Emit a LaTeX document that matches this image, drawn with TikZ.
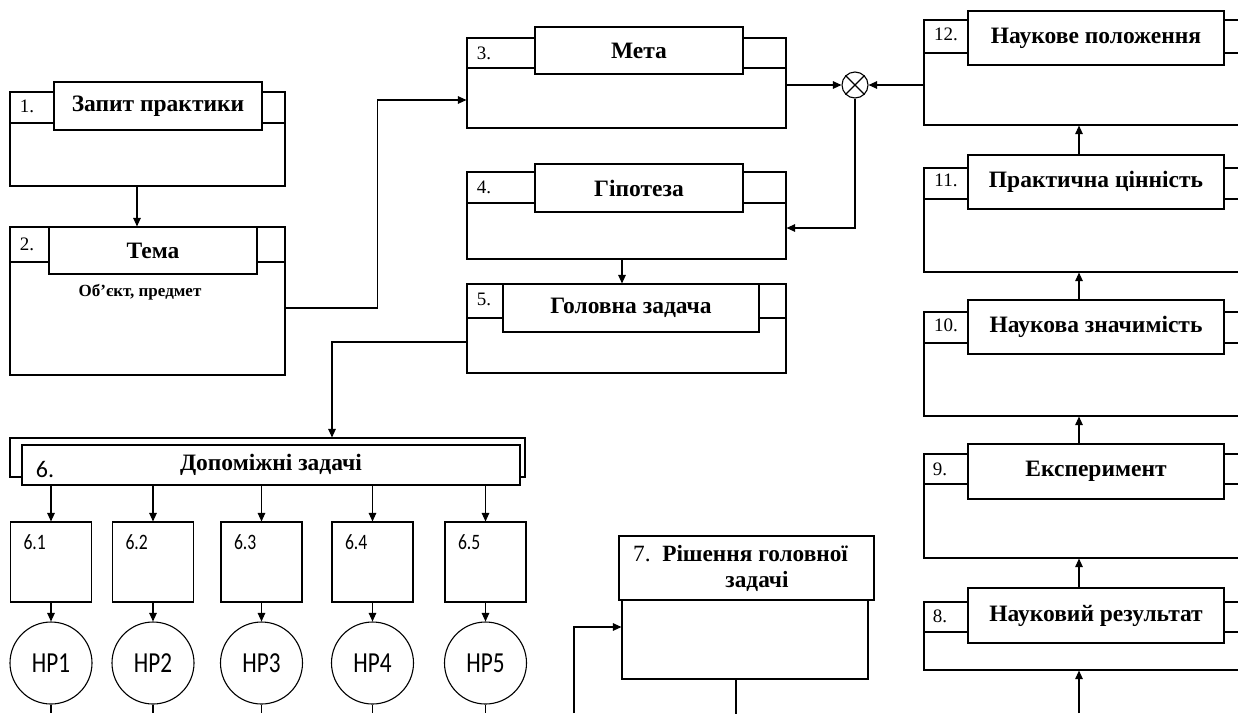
\documentclass[tikz,border=0pt]{standalone}
\usepackage{fontspec}
\setmainfont{Liberation Serif}
\newfontfamily\sansnum{Carlito}
\newfontfamily\narrowsans[FakeStretch=0.8]{Carlito}
\usetikzlibrary{arrows.meta}

\begin{document}
\begin{tikzpicture}[x=1pt, y=-1pt, line width=1.1pt,
    % Define the styles for the boxes
    frame/.style={draw, inner sep=0pt},
    titlebox/.style={draw, fill=white, inner sep=0pt,
        font=\bfseries\fontsize{23.5}{27}\selectfont},
    numlabel/.style={inner sep=0pt, font=\fontsize{19}{22}\selectfont},
    subtask/.style={draw, inner sep=0pt, minimum width=81, minimum height=80},
    result/.style={draw, circle, inner sep=0pt, minimum size=82,
        font=\narrowsans\fontsize{29}{30}\selectfont},
    link/.style={-{Triangle[length=8.5pt, width=7.5pt]}}
]
\useasboundingbox (0,0) rectangle (1238,713);
\clip (0,0) rectangle (1238,713);

% Define the helper points
\coordinate (bottom) at (0,713);
\coordinate (spine) at (1079,0);
\coordinate (feed7) at (574,713);

% Box 1
\node[frame, minimum width=275, minimum height=94] (b1) at (147.5,139) {};
\draw (10,123) -- (285,123);
\node[titlebox, minimum width=208, minimum height=48] (t1) at (158,106) {Запит практики};
\node[numlabel] (n1) at (27,106) {1.};

% Box 2
\node[frame, minimum width=275, minimum height=148] (b2) at (147.5,301) {};
\draw (10,262) -- (285,262);
\node[titlebox, minimum width=208, minimum height=47] (t2) at (153,250.5) {Тема};
\node[numlabel] (n2) at (27,244) {2.};
\node[inner sep=0pt, font=\bfseries\fontsize{17}{20}\selectfont] (sub2) at (140,292) {Об'єкт, предмет};

% Box 3
\node[frame, minimum width=319, minimum height=90] (b3) at (626.5,83) {};
\draw (467,68) -- (786,68);
\node[titlebox, minimum width=208, minimum height=47] (t3) at (639,50.5) {Мета};
\node[numlabel] (n3) at (484,53) {3.};

% Box 4
\node[frame, minimum width=319, minimum height=87] (b4) at (626.5,215.5) {};
\draw (467,203) -- (786,203);
\node[titlebox, minimum width=208, minimum height=48] (t4) at (639,188) {Гіпотеза};
\node[numlabel] (n4) at (484,187) {4.};

% Box 5
\node[frame, minimum width=319, minimum height=89] (b5) at (626.5,328.5) {};
\draw (467,318) -- (786,318);
\node[titlebox, minimum width=256, minimum height=48] (t5) at (631,308) {Головна задача};
\node[numlabel] (n5) at (484,299) {5.};

% Combining node
\node[draw, circle, inner sep=0pt, minimum size=26] (mix) at (855,85) {};
\draw (mix.north west) -- (mix.south east);
\draw (mix.north east) -- (mix.south west);

% Right column, boxes 12 to 8
\node[frame, minimum width=326, minimum height=105] (b12) at (1087,72.5) {};
\draw (924,53) -- (1250,53);
\node[titlebox, minimum width=256, minimum height=54] (t12) at (1096,38) {Наукове положення};
\node[numlabel] (n12) at (946,34) {12.};

\node[frame, minimum width=326, minimum height=104] (b11) at (1087,220) {};
\draw (924,199) -- (1250,199);
\node[titlebox, minimum width=256, minimum height=54] (t11) at (1096,182) {Практична цінність};
\node[numlabel] (n11) at (946,180) {11.};

\node[frame, minimum width=326, minimum height=104] (b10) at (1087,364) {};
\draw (924,343) -- (1250,343);
\node[titlebox, minimum width=256, minimum height=54] (t10) at (1096,327) {Наукова значимість};
\node[numlabel] (n10) at (946,325) {10.};

\node[frame, minimum width=326, minimum height=104] (b9) at (1087,506) {};
\draw (924,484) -- (1250,484);
\node[titlebox, minimum width=256, minimum height=55] (t9) at (1096,471.5) {Експеримент};
\node[numlabel] (n9) at (940,469) {9.};

\node[frame, minimum width=326, minimum height=68] (b8) at (1087,636) {};
\draw (924,632) -- (1250,632);
\node[titlebox, minimum width=256, minimum height=55] (t8) at (1096,615.5) {Науковий результат};
\node[numlabel] (n8) at (940,616) {8.};

% Box 6 and the subtasks
\node[frame, minimum width=515, minimum height=39] (b6) at (267.5,457.5) {};
\node[titlebox, minimum width=498, minimum height=40] (t6) at (271,465) {Допоміжні задачі};
\node[inner sep=0pt, font=\sansnum\fontsize{24}{26}\selectfont] (n6) at (45,469) {6.};

\foreach \i/\x in {1/51, 2/153, 3/261.5, 4/372.5, 5/485.5} {
    \node[subtask] (s\i) at (\x,562) {};
    \node[anchor=west, inner sep=0pt, font=\narrowsans\fontsize{22}{24}\selectfont]
        (l\i) at ([xshift=13pt, yshift=-21pt]s\i.north west) {6.\i};
    \node[result] (c\i) at (\x,663) {НР\i};
    \draw[link] (t6.south -| s\i.north) -- (s\i.north);
    \draw[link] (s\i.south) -- (c\i.north);
    \draw (c\i.south) -- (c\i.south |- bottom);
}

% Box 7
\node[frame, minimum width=246, minimum height=79] (b7) at (745,639.5) {};
\node[titlebox, minimum width=255, minimum height=64, align=center,
    font=\bfseries\fontsize{23.3}{26}\selectfont] (t7) at (746.5,568)
    {\mdseries 7.\enspace\bfseries Рішення головної\hspace*{12pt}\\ \hspace*{21pt}задачі};

% Draw the connectors
\draw[link] ([xshift=-10.5pt]b1.south) -- ([xshift=-10.5pt]b2.north);
\draw[link] ([yshift=-7pt]b2.east) -- ++(92,0) |- ([yshift=-17pt]b3.west);
\draw[link] (b3.east |- mix.west) -- (mix.west);
\draw[link] (b12.west |- mix.east) -- (mix.east);
\draw[link] (mix.south) |- ([yshift=-12.5pt]b4.east);
\draw[link] ([xshift=-4.5pt]b4.south) -- ([xshift=-4.5pt]b5.north);
\draw[link] ([yshift=-13.5pt]b5.west) -| ([xshift=64.5pt]b6.north);
\draw[link] (feed7) |- ([yshift=12.5pt]b7.west);
\draw ([xshift=-9pt]b7.south) -- ++(0,40);

\draw[link] (bottom -| spine) -- (b8.south -| spine);
\draw[link] (t8.north -| spine) -- (b9.south -| spine);
\draw[link] (t9.north -| spine) -- (b10.south -| spine);
\draw[link] (t10.north -| spine) -- (b11.south -| spine);
\draw[link] (t11.north -| spine) -- (b12.south -| spine);

\end{tikzpicture}
\end{document}
